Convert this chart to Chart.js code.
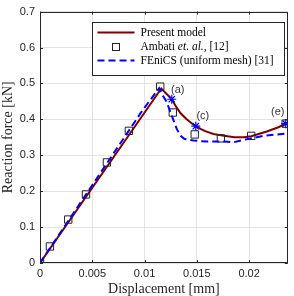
<!DOCTYPE html>
<html lang="en">
<head>
<meta charset="UTF-8">
<title>Reaction force vs displacement</title>
<style>
  html, body { margin: 0; padding: 0; background: #fff; }
  #chart { display: block; }
</style>
</head>
<body>
<canvas id="chart" width="294" height="296"></canvas>
<script src="https://cdn.jsdelivr.net/npm/chart.js"></script>
<script>
// values
const presentX = [0, 0.0116, 0.0126, 0.0130, 0.01345, 0.0140, 0.0145, 0.0149, 0.0154, 0.0158, 0.0166, 0.0176, 0.0186, 0.0195, 0.0202, 0.0217, 0.0228, 0.0235];
const presentY = [0, 0.486, 0.456, 0.436, 0.417, 0.401, 0.389, 0.381, 0.373, 0.367, 0.359, 0.354, 0.350, 0.350, 0.353, 0.366, 0.378, 0.388];

const ambatiX = [0, 0.00095, 0.0027, 0.0044, 0.0064, 0.0085, 0.0115, 0.0127, 0.0148, 0.0173, 0.0202, 0.0235];
const ambatiY = [0, 0.046, 0.121, 0.191, 0.280, 0.368, 0.491, 0.419, 0.358, 0.347, 0.354, 0.388];

const fenicsX = [0, 0.0098, 0.0114, 0.0117, 0.0121, 0.0125, 0.0131, 0.0135, 0.0138, 0.0142, 0.0147, 0.0160, 0.0176, 0.0185, 0.0195, 0.0214, 0.0237];
const fenicsY = [0, 0.425, 0.487, 0.468, 0.450, 0.418, 0.372, 0.353, 0.346, 0.343, 0.341, 0.338, 0.338, 0.336, 0.343, 0.354, 0.361];

const starX = [0.0126, 0.0149, 0.0235];
const starY = [0.456, 0.381, 0.388];
const starLabels = ['(a)', '(c)', '(e)'];

const xTicks = [0, 0.005, 0.01, 0.015, 0.02];
const xTickLabels = ['0', '0.005', '0.01', '0.015', '0.02'];
const yTicks = [0, 0.1, 0.2, 0.3, 0.4, 0.5, 0.6, 0.7];
const yTickLabels = ['0', '0.1', '0.2', '0.3', '0.4', '0.5', '0.6', '0.7'];

const seriesNames = ['Present model', 'Ambati et. al., [12]', 'FEniCS (uniform mesh) [31]'];

// label offsets for the (a) (c) (e) marks, in pixels
const labelOffsets = [[6, -9], [7, -10], [-8, -12]];

const RED = '#800000';
const BLUE = '#0000ff';
const AXIS = '#262626';

const toPoints = (xs, ys) => xs.map((x, i) => ({ x: x, y: ys[i] }));

const frame = {
  id: 'frame',
  afterDatasetsDraw(chart) {
    const c = chart.ctx;
    const sx = chart.scales.x, sy = chart.scales.y;
    c.save();
    c.font = '11px "Liberation Sans"';
    c.fillStyle = '#333';
    c.textAlign = 'center';
    c.textBaseline = 'middle';
    starLabels.forEach((t, i) => {
      c.fillText(t, sx.getPixelForValue(starX[i]) + labelOffsets[i][0],
                    sy.getPixelForValue(starY[i]) + labelOffsets[i][1]);
    });
    c.restore();
  },
  afterDraw(chart) {
    const c = chart.ctx, a = chart.chartArea;
    const sx = chart.scales.x, sy = chart.scales.y;
    c.save();
    c.strokeStyle = AXIS;
    c.lineWidth = 1;
    c.beginPath();
    xTicks.forEach(v => {
      const px = Math.round(sx.getPixelForValue(v)) + 0.5;
      c.moveTo(px, a.bottom); c.lineTo(px, a.bottom - 3);
      c.moveTo(px, a.top); c.lineTo(px, a.top + 3);
    });
    yTicks.forEach(v => {
      const py = Math.round(sy.getPixelForValue(v)) + 0.5;
      c.moveTo(a.left, py); c.lineTo(a.left + 3, py);
      c.moveTo(a.right, py); c.lineTo(a.right - 3, py);
    });
    c.stroke();
    c.strokeRect(Math.round(a.left) + 0.5, Math.round(a.top) + 0.5,
                 Math.round(a.width) - 1, Math.round(a.height) - 1);

    // legend box
    const bx = Math.round(a.right) - 195.5, by = Math.round(a.top) + 10.5;
    const bw = 192, bh = 53;
    c.fillStyle = '#fff';
    c.fillRect(bx, by, bw, bh);
    c.strokeStyle = AXIS;
    c.strokeRect(bx, by, bw, bh);

    const rowY = [by + 10, by + 24, by + 38];
    const lx0 = bx + 5, lx1 = bx + 42, tx = bx + 48;

    c.lineWidth = 2;
    c.strokeStyle = RED;
    c.beginPath(); c.moveTo(lx0, rowY[0]); c.lineTo(lx1, rowY[0]); c.stroke();

    c.lineWidth = 1;
    c.strokeStyle = '#222';
    c.strokeRect(Math.round((lx0 + lx1) / 2) - 3.5, Math.round(rowY[1]) - 3.5, 7, 7);

    c.lineWidth = 2;
    c.strokeStyle = BLUE;
    c.setLineDash([7, 4]);
    c.beginPath(); c.moveTo(lx0, rowY[2]); c.lineTo(lx1, rowY[2]); c.stroke();
    c.setLineDash([]);

    c.fillStyle = '#000';
    c.textAlign = 'left';
    c.textBaseline = 'middle';
    const reg = '11.5px "Liberation Serif"';
    const ita = 'italic 11.5px "Liberation Serif"';
    c.font = reg;
    c.fillText(seriesNames[0], tx, rowY[0]);
    c.fillText(seriesNames[2], tx, rowY[2]);
    // "et. al." in italics
    const parts = [['Ambati ', reg], ['et. al.', ita], [', [12]', reg]];
    let x = tx;
    parts.forEach(p => {
      c.font = p[1];
      c.fillText(p[0], x, rowY[1]);
      x += c.measureText(p[0]).width;
    });
    c.restore();
  }
};

new Chart(document.getElementById('chart'), {
  type: 'scatter',
  data: {
    datasets: [
      {
        label: seriesNames[0],
        data: toPoints(presentX, presentY),
        showLine: true,
        borderColor: RED,
        borderWidth: 2,
        pointRadius: 0,
        order: 3
      },
      {
        label: seriesNames[1],
        data: toPoints(ambatiX, ambatiY),
        pointStyle: 'rect',
        pointRadius: 5.2,
        borderColor: '#222',
        borderWidth: 1,
        backgroundColor: 'rgba(0,0,0,0)',
        order: 2
      },
      {
        label: seriesNames[2],
        data: toPoints(fenicsX, fenicsY),
        showLine: true,
        borderColor: BLUE,
        borderWidth: 2,
        borderDash: [7, 4],
        pointRadius: 0,
        order: 1
      },
      {
        label: 'marks',
        data: toPoints(starX, starY),
        pointStyle: 'star',
        pointRadius: 4.5,
        borderColor: BLUE,
        borderWidth: 1.2,
        order: 0
      }
    ]
  },
  options: {
    responsive: false,
    animation: false,
    layout: { padding: { top: 4, right: 4, left: 0, bottom: 0 } },
    plugins: {
      legend: { display: false },
      tooltip: { enabled: false }
    },
    scales: {
      x: {
        type: 'linear',
        min: 0,
        max: 0.0237,
        afterBuildTicks: s => { s.ticks = xTicks.map(v => ({ value: v })); },
        afterFit: s => { s.height = 33; },
        grid: { color: '#e3e3e3', drawTicks: false },
        border: { display: false },
        ticks: {
          padding: 4,
          color: AXIS,
          font: { family: 'Liberation Sans', size: 11 },
          maxRotation: 0,
          callback: (v, i) => xTickLabels[i]
        },
        title: {
          display: true,
          text: 'Displacement [mm]',
          color: AXIS,
          padding: 0,
          font: { family: 'Liberation Serif', size: 14, lineHeight: 1 }
        }
      },
      y: {
        type: 'linear',
        min: 0,
        max: 0.7,
        afterBuildTicks: s => { s.ticks = yTicks.map(v => ({ value: v })); },
        afterFit: s => { s.width = 40; },
        grid: { color: '#e3e3e3', drawTicks: false },
        border: { display: false },
        ticks: {
          padding: 5,
          color: AXIS,
          font: { family: 'Liberation Sans', size: 11 },
          callback: (v, i) => yTickLabels[i]
        },
        title: {
          display: true,
          text: 'Reaction force [kN]',
          color: AXIS,
          padding: 0,
          font: { family: 'Liberation Serif', size: 14, lineHeight: 1.2 }
        }
      }
    }
  },
  plugins: [frame]
});
</script>
</body>
</html>
